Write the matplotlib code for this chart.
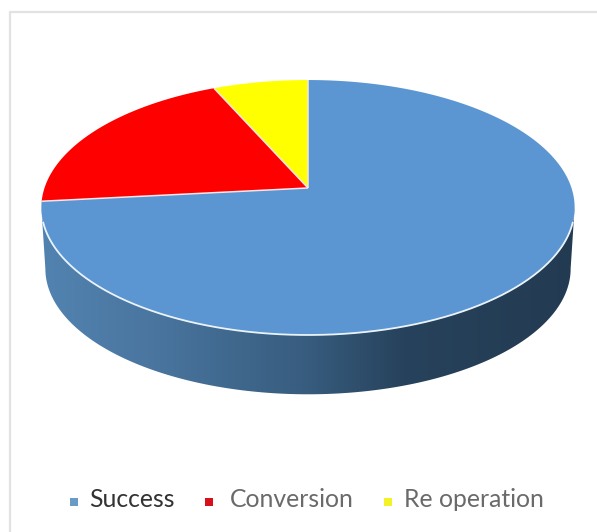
import numpy as np
import matplotlib
matplotlib.use("Agg")
import matplotlib.pyplot as plt
from matplotlib.colors import LinearSegmentedColormap
from matplotlib.patches import Polygon

plt.rcParams['font.family'] = ['Lato', 'DejaVu Sans']

# Slices, clockwise from twelve o'clock
labels = ['Success', 'Conversion', 'Re operation']
values = [22, 6, 2]
colors = ['#5B96D3', '#FF0000', '#FFFF00']
legend_colors = ['#6A9BC4', '#D8101C', '#F2F226']
text_colors = ['#333333', '#6A6A6A', '#6A6A6A']

W, H = 597, 532
CX, CY = 308, 188
A, B, K = 263.5, 124.5, 0.153   # tilt of the top disc
DEPTH = 61.5


def project(theta, r=1.0, scale=1.0, dy=0.0):
    # theta is clockwise from the top of the pie
    u = r * np.sin(theta)
    v = r * np.cos(theta)
    d = 1 + K * v
    return CX + scale * A * u / d, CY + dy - scale * B * v / d


def front_arc(scale=1.0, dy=0.0):
    # lower half of a disc outline, between its widest points
    t = np.linspace(0, 2 * np.pi, 1441)
    x, y = project(t, scale=scale, dy=dy)
    right, left = np.argmax(x), np.argmin(x)
    return x[right:left + 1], y[right:left + 1]


fig = plt.figure(figsize=(W / 100, H / 100), dpi=100)
ax = fig.add_axes([0, 0, 1, 1])
ax.set_xlim(0, W)
ax.set_ylim(H, 0)
ax.axis('off')

# thin frame around the chart area
ax.plot([597, 10, 10], [12, 12, 532], color='#E2E2E2', lw=1.6, zorder=1)

# side wall: front of the rim joined to the front of the bottom disc
rim_x, rim_y = front_arc()
low_x, low_y = front_arc(scale=0.985, dy=DEPTH)
wall = Polygon(np.column_stack([np.r_[rim_x, low_x[::-1]], np.r_[rim_y, low_y[::-1]]]),
               closed=True, fc='none', ec='none', transform=ax.transData)
ax.add_patch(wall)
shade = LinearSegmentedColormap.from_list('wall', [
    (0.0, '#5283B0'), (0.2, '#4A76A0'), (0.5, '#375C7E'),
    (0.68, '#27425C'), (1.0, '#233B52')])
img = ax.imshow(np.linspace(0, 1, 256)[None, :], cmap=shade, aspect='auto',
                extent=(41, 575, 400, 180), zorder=2)
img.set_clip_path(wall)
ax.set_xlim(0, W)
ax.set_ylim(H, 0)

# top disc, one polygon per slice
edges = np.r_[0, np.cumsum(values)] / np.sum(values) * 2 * np.pi
for i, col in enumerate(colors):
    th = np.linspace(edges[i], edges[i + 1], 200)
    x, y = project(th)
    ax.add_patch(Polygon(np.column_stack([np.r_[CX, x], np.r_[CY, y]]), closed=True,
                         fc=col, ec='none', zorder=3))

# seams between the slices
for e in edges[:3]:
    x, y = project(e)
    ax.plot([CX, x], [CY, y], color='#F6E6E6', lw=1.1, zorder=4, solid_capstyle='butt')

# light rim along the front edge
t = np.linspace(np.pi / 2 + 0.27, 3 * np.pi / 2 - 0.27, 300)
x, y = project(t)
ax.plot(x, y, color='#EAF3FA', lw=1.3, zorder=4)

# legend row
marker_x = [73.5, 209, 388]
text_x = [89, 230, 404]
for lab, col, tcol, mx, tx in zip(labels, legend_colors, text_colors, marker_x, text_x):
    ax.plot(mx, 501.5, marker='s', ms=6.2, color=col, mew=0, zorder=5)
    ax.text(tx, 499.5, lab, color=tcol, fontsize=17.8, va='center', ha='left', zorder=5)

fig.savefig('out.png', dpi=100, facecolor='white')
